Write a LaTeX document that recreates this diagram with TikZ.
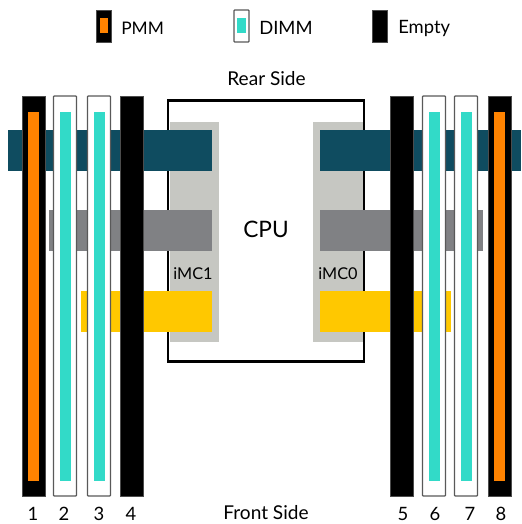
\documentclass[tikz,border=0pt]{standalone}
\usepackage{fontspec}
\usepackage{xcolor}
\setmainfont{Lato}
\definecolor{pmmorange}{HTML}{FF8300}
\definecolor{dimmcyan}{HTML}{32DAC8}
\definecolor{imcgray}{HTML}{C6C7C2}
\definecolor{busteal}{HTML}{0F4C60}
\definecolor{busgray}{HTML}{808184}
\definecolor{busyellow}{HTML}{FFC800}
\begin{document}
\begin{tikzpicture}[x=0.75pt,y=-0.75pt]
\tikzstyle{every node}+=[inner sep=0pt, font=\fontsize{13.8}{15}\selectfont]
\tikzstyle{slotbox}=[draw=black!65, fill=white, line width=0.9pt, rounded corners=0.5pt]
\tikzstyle{emptybox}=[draw=black!70, fill=black, line width=0.5pt]
\useasboundingbox (0,0) rectangle (521,524);
% legend
\draw[emptybox] (96,10) rectangle (111,42);
\fill[pmmorange] (99.5,18) rectangle (108,33);
\node (pmm) [anchor=west, font=\fontsize{13}{15}\selectfont] at (121,28) {PMM};
\draw[slotbox] (234,10) rectangle (249,42);
\fill[dimmcyan] (237,18) rectangle (246,33);
\node (dimm) [anchor=west] at (259,28) {DIMM};
\draw[emptybox] (372,10) rectangle (387,42);
\node (empty) [anchor=west] at (398,28) {Empty};
% cpu
\node (rear) [font=\fontsize{14.3}{15}\selectfont] at (266.5,79) {Rear Side};
\draw[black, line width=1.6pt] (168,100.5) rectangle (364,361.5);
\fill[imcgray] (170,122) rectangle (218.5,342);
\fill[imcgray] (313,122) rectangle (362.5,342);
\node (cpu) [font=\fontsize{17}{19}\selectfont] at (266,229) {CPU};
\node (imc1) [font=\fontsize{12.2}{14}\selectfont] at (193,274) {iMC1};
\node (imc0) [font=\fontsize{12.2}{14}\selectfont] at (338,274) {iMC0};
% channels
\fill[busteal] (8,130) rectangle (212,171);
\fill[busteal] (319.5,130) rectangle (521,171);
\fill[busgray] (49,210) rectangle (212,251);
\fill[busgray] (319.5,210) rectangle (482.5,251);
\fill[busyellow] (81,290.5) rectangle (212,332);
\fill[busyellow] (319.5,290.5) rectangle (450.5,332);
% slots
\foreach \xa/\name in {22/1,488/8} {
  \draw[emptybox] (\xa,96) rectangle (\xa+23,496);
  \fill[pmmorange] (\xa+6.3,112) rectangle (\xa+17,480.5);
}
\foreach \xa/\name in {53.5/2,87.5/3,422.5/6,454.5/7} {
  \draw[slotbox] (\xa,96) rectangle (\xa+23,496);
  \fill[dimmcyan] (\xa+6.7,112) rectangle (\xa+17,480.5);
}
\draw[emptybox] (120,96) rectangle (143,496);
\draw[emptybox] (390,96) rectangle (413,496);
% numbers
\foreach \xa/\name in {33/1,64/2,99/3,131/4,403/5,435/6,470/7,501/8}
  \node (num\name) at (\xa,513.5) {\name};
\node (front) [font=\fontsize{14.3}{15}\selectfont] at (266,512.5) {Front Side};
\end{tikzpicture}
\end{document}
